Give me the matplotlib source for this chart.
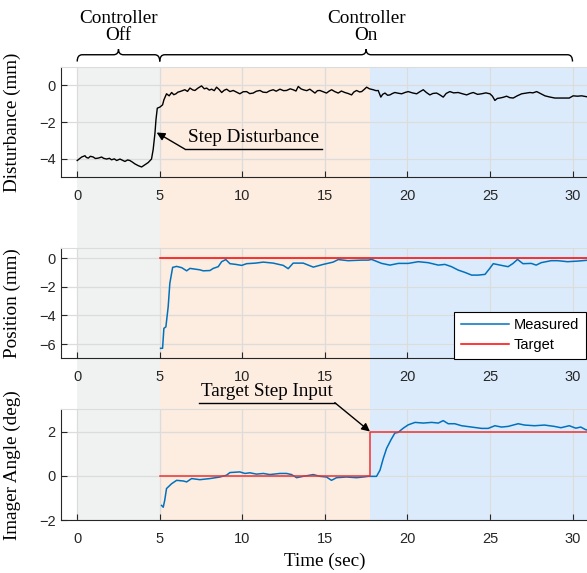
import numpy as np
import matplotlib
matplotlib.use('Agg')
import matplotlib.pyplot as plt
from matplotlib.path import Path
from matplotlib.patches import PathPatch

plt.rcParams['font.family'] = ['Liberation Sans', 'DejaVu Sans']
SERIF = ['Liberation Serif', 'DejaVu Serif']

# Data
dist_t = [0.0, 0.13, 0.27, 0.47, 0.55, 0.67, 0.8, 0.97, 1.1, 1.27, 1.48, 1.6, 1.78, 1.95,
          2.08, 2.25, 2.39, 2.59, 2.75, 2.89, 3.05, 3.19, 3.35, 3.49, 3.7, 3.9, 4.1, 4.3,
          4.5, 4.6, 4.71, 4.77, 4.85, 5.01, 5.17, 5.25, 5.41, 5.57, 5.72, 5.85, 5.98, 6.1,
          6.22, 6.38, 6.52, 6.68, 6.83, 7.0, 7.13, 7.3, 7.53, 7.7, 7.84, 8.0, 8.14, 8.3,
          8.44, 8.6, 8.75, 8.9, 9.05, 9.25, 9.45, 9.65, 9.85, 10.05, 10.26, 10.45, 10.66,
          10.85, 11.07, 11.25, 11.47, 11.65, 11.87, 12.05, 12.28, 12.5, 12.68, 12.9, 13.08,
          13.25, 13.39, 13.55, 13.69, 13.9, 14.09, 14.25, 14.4, 14.55, 14.7, 14.9, 15.1,
          15.25, 15.41, 15.6, 15.81, 16.0, 16.21, 16.4, 16.62, 16.75, 16.92, 17.1, 17.23,
          17.4, 17.53, 17.7, 17.93, 18.1, 18.23, 18.39, 18.5, 18.64, 18.8, 18.94, 19.1,
          19.24, 19.45, 19.65, 19.85, 20.05, 20.3, 20.56, 20.75, 20.96, 21.15, 21.36, 21.55,
          21.77, 21.95, 22.17, 22.35, 22.57, 22.8, 23.08, 23.3, 23.59, 23.8, 23.99, 24.25,
          24.49, 24.75, 25.0, 25.15, 25.3, 25.45, 25.6, 25.8, 26.01, 26.2, 26.41, 26.65,
          26.92, 27.15, 27.42, 27.6, 27.83, 28.05, 28.33, 28.6, 28.93, 29.2, 29.54, 29.8,
          30.04, 30.3, 30.55, 30.8, 31.0]
dist_y = [-4.09, -4.0, -3.9, -3.83, -3.92, -3.96, -3.86, -3.9, -3.98, -3.96, -3.9, -3.97,
          -4.01, -3.97, -4.05, -4.0, -4.09, -4.01, -4.08, -4.14, -4.06, -4.09, -4.18, -4.27,
          -4.37, -4.44, -4.32, -4.2, -4.01, -3.5, -2.6, -1.88, -1.25, -1.19, -1.07, -0.8,
          -0.47, -0.58, -0.4, -0.52, -0.47, -0.38, -0.35, -0.3, -0.25, -0.34, -0.16, -0.26,
          -0.29, -0.17, -0.04, -0.2, -0.16, -0.27, -0.22, -0.3, -0.11, -0.24, -0.4, -0.28,
          -0.22, -0.35, -0.29, -0.38, -0.47, -0.36, -0.35, -0.46, -0.43, -0.33, -0.29, -0.38,
          -0.4, -0.31, -0.25, -0.33, -0.22, -0.3, -0.29, -0.2, -0.25, -0.32, -0.07, -0.2,
          -0.25, -0.3, -0.22, -0.33, -0.43, -0.3, -0.29, -0.36, -0.43, -0.33, -0.25, -0.35,
          -0.43, -0.32, -0.4, -0.45, -0.53, -0.38, -0.29, -0.37, -0.35, -0.22, -0.11, -0.2,
          -0.25, -0.3, -0.29, -0.65, -0.5, -0.43, -0.55, -0.53, -0.45, -0.4, -0.44, -0.47,
          -0.4, -0.35, -0.42, -0.47, -0.36, -0.25, -0.4, -0.53, -0.45, -0.43, -0.52, -0.65,
          -0.45, -0.35, -0.42, -0.4, -0.46, -0.53, -0.45, -0.4, -0.5, -0.47, -0.42, -0.47,
          -0.6, -0.83, -0.72, -0.7, -0.66, -0.6, -0.68, -0.7, -0.58, -0.47, -0.44, -0.4,
          -0.42, -0.35, -0.45, -0.58, -0.64, -0.7, -0.7, -0.7, -0.7, -0.58, -0.6, -0.58,
          -0.62, -0.65]

pos_t = [5.05, 5.17, 5.25, 5.37, 5.51, 5.61, 5.78, 6.02, 6.33, 6.63, 6.83, 7.13, 7.43, 7.63,
         8.04, 8.24, 8.54, 8.75, 9.0, 9.25, 9.6, 9.96, 10.26, 10.8, 11.27, 11.87, 12.48,
         12.78, 13.08, 13.69, 14.3, 14.9, 15.5, 15.81, 16.41, 17.22, 17.63, 17.83, 18.44,
         18.94, 19.45, 20.05, 20.66, 21.26, 21.87, 22.27, 22.67, 23.08, 23.48, 23.89, 24.29,
         24.7, 25.0, 25.2, 25.7, 26.1, 26.4, 26.67, 27.0, 27.5, 27.8, 28.1, 28.7, 29.1,
         29.7, 30.3, 31.0]
pos_y = [-6.3, -6.3, -4.9, -4.8, -3.39, -1.75, -0.63, -0.56, -0.65, -0.87, -0.7, -0.75,
         -0.8, -0.87, -0.85, -0.7, -0.58, -0.23, -0.08, -0.37, -0.42, -0.49, -0.37, -0.33,
         -0.26, -0.33, -0.49, -0.72, -0.33, -0.33, -0.61, -0.42, -0.26, -0.08, -0.16, -0.12,
         -0.12, -0.07, -0.35, -0.47, -0.35, -0.35, -0.23, -0.3, -0.47, -0.42, -0.58, -0.82,
         -0.98, -1.17, -1.17, -1.12, -0.68, -0.37, -0.49, -0.58, -0.35, -0.07, -0.37, -0.35,
         -0.47, -0.3, -0.16, -0.16, -0.23, -0.19, -0.12]
pos_target_t = [5.0, 31.0]
pos_target_y = [0.0, 0.0]

ang_t = [5.11, 5.21, 5.3, 5.41, 5.72, 6.02, 6.43, 6.63, 6.93, 7.43, 8.04, 8.64, 9.04, 9.25,
         9.85, 10.16, 10.46, 10.86, 11.27, 11.67, 12.28, 12.68, 12.98, 13.29, 13.69, 14.3,
         14.7, 15.1, 15.4, 15.71, 16.31, 16.92, 17.32, 17.63, 18.13, 18.34, 18.54, 18.74,
         19.0, 19.24, 19.44, 19.75, 20.05, 20.46, 20.96, 21.47, 21.87, 22.17, 22.47, 22.87,
         23.28, 23.89, 24.49, 24.89, 25.3, 25.7, 26.1, 26.71, 27.1, 27.7, 28.3, 28.9, 29.3,
         29.8, 30.2, 30.5, 30.8, 31.0]
ang_y = [-1.33, -1.41, -1.1, -0.57, -0.35, -0.2, -0.23, -0.27, -0.12, -0.17, -0.12, -0.05,
         0.03, 0.15, 0.18, 0.11, 0.14, 0.08, 0.11, 0.06, 0.11, 0.11, 0.06, -0.08, -0.02, 0.06,
         -0.02, -0.05, -0.2, -0.08, -0.05, -0.08, -0.05, -0.02, -0.02, 0.26, 0.79, 1.24, 1.62,
         1.93, 1.96, 2.15, 2.3, 2.41, 2.38, 2.41, 2.38, 2.49, 2.35, 2.35, 2.26, 2.2, 2.14,
         2.14, 2.26, 2.2, 2.23, 2.35, 2.29, 2.26, 2.29, 2.23, 2.17, 2.26, 2.15, 2.2, 2.08, 2.05]
ang_target_t = [5.0, 17.73, 17.73, 31.0]
ang_target_y = [0.0, 0.0, 2.0, 2.0]

phase_edges = [0.0, 5.0, 17.73, 31.0]
phase_colors = ['#f0f1f1', '#fdece0', '#dcebfb']
xticks = [0, 5, 10, 15, 20, 25, 30]

W, H = 587, 573
fig = plt.figure(figsize=(W / 100, H / 100), dpi=100)
fig.patch.set_facecolor('white')

left = 60.7 / W
width = 32 * 16.51 / W


def frac(top_px, bot_px):
    return [left, 1 - bot_px / H, width, (bot_px - top_px) / H]


# shaded phases running through all panels
bg = fig.add_axes(frac(66.7, 520.3))
bg.set_xlim(-1, 31)
bg.set_ylim(0, 1)
for i in range(3):
    bg.axvspan(phase_edges[i], phase_edges[i + 1], color=phase_colors[i], lw=0)
bg.axis('off')

ax1 = fig.add_axes(frac(66.7, 177.3))
ax2 = fig.add_axes(frac(247.7, 358.3))
ax3 = fig.add_axes(frac(409.3, 520.3))

for ax in [ax1, ax2, ax3]:
    ax.set_facecolor('none')
    ax.set_xlim(-1, 31)
    ax.set_xticks(xticks)
    ax.grid(True, color='#dcdcdc', lw=0.9)
    ax.set_axisbelow(True)
    ax.tick_params(direction='in', length=4, width=0.8, colors='#262626', labelsize=10.5)
    ax.tick_params(axis='x', pad=8.5)
    ax.spines['right'].set_visible(False)
    ax.spines['top'].set_color('#dcdcdc')
    ax.spines['left'].set_color('#262626')
    ax.spines['bottom'].set_color('#262626')

# top: disturbance
ax1.plot(dist_t, dist_y, color='black', lw=1.0)
ax1.set_ylim(-5, 1)
ax1.set_yticks([-4, -2, 0])
ax1.set_ylabel('Disturbance (mm)', family=SERIF, fontsize=13.8)

# middle: position
ax2.plot(pos_t, pos_y, color='#0072BD', lw=1.1, label='Measured')
ax2.plot(pos_target_t, pos_target_y, color='#ff0000', lw=1.1, label='Target')
ax2.set_ylim(-7, 0.75)
ax2.set_yticks([-6, -4, -2, 0])
ax2.set_ylabel('Position (mm)', family=SERIF, fontsize=13.8)
leg = ax2.legend(loc='upper left', bbox_to_anchor=(454 / W, 1 - 311.7 / H),
                 bbox_transform=fig.transFigure, borderaxespad=0, fancybox=False,
                 framealpha=1, edgecolor='black', fontsize=10.5, handlelength=3.3,
                 handletextpad=0.35, labelspacing=0.4, borderpad=0.45)
leg.get_frame().set_linewidth(0.8)

# bottom: imager angle
ax3.plot(ang_t, ang_y, color='#0072BD', lw=1.1)
ax3.plot(ang_target_t, ang_target_y, color='#f03030', lw=1.1)
ax3.set_ylim(-2, 3)
ax3.set_yticks([-2, 0, 2])
ax3.set_ylabel('Imager Angle (deg)', family=SERIF, fontsize=13.8)
ax3.set_xlabel('Time (sec)', family=SERIF, fontsize=13.8, labelpad=5)

for ax in [ax1, ax2, ax3]:
    ax.yaxis.set_label_coords(-0.076, 0.5)


# curly braces above the top panel
def brace(ax, x0, x1, y0, h, r):
    xm = (x0 + x1) / 2
    ym = y0 + h * 0.55
    verts = [(x0, y0), (x0, ym), (x0 + r, ym),
             (xm - r, ym), (xm, ym), (xm, y0 + h),
             (xm, ym), (xm + r, ym),
             (x1 - r, ym), (x1, ym), (x1, y0)]
    codes = [Path.MOVETO, Path.CURVE3, Path.CURVE3,
             Path.LINETO, Path.CURVE3, Path.CURVE3,
             Path.CURVE3, Path.CURVE3,
             Path.LINETO, Path.CURVE3, Path.CURVE3]
    patch = PathPatch(Path(verts, codes), fill=False, lw=1.0, color='black', clip_on=False)
    ax.add_patch(patch)


brace(ax1, 0, 5, 1.28, 0.67, 0.3)
brace(ax1, 5, 30, 1.28, 0.67, 0.3)
ax1.text(2.5, 3.15, 'Controller\nOff', ha='center', va='center', family=SERIF,
         fontsize=13.8, linespacing=0.95, clip_on=False)
ax1.text(17.5, 3.15, 'Controller\nOn', ha='center', va='center', family=SERIF,
         fontsize=13.8, linespacing=0.95, clip_on=False)

# annotation: step disturbance
ax1.annotate('', xy=(4.81, -2.57), xytext=(6.52, -3.47),
             arrowprops=dict(arrowstyle='-|>', color='black', lw=1.0, mutation_scale=12,
                             shrinkA=0, shrinkB=0))
ax1.plot([6.52, 14.82], [-3.47, -3.47], color='black', lw=1.0)
ax1.text(10.67, -2.85, 'Step Disturbance', ha='center', va='center', family=SERIF,
         fontsize=13.8)

# annotation: target step input
ax3.annotate('', xy=(17.73, 2.0), xytext=(15.6, 3.3),
             arrowprops=dict(arrowstyle='-|>', color='black', lw=1.0, mutation_scale=12,
                             shrinkA=0, shrinkB=0), annotation_clip=False)
ax3.plot([7.37, 15.6], [3.3, 3.3], color='black', lw=1.0, clip_on=False)
ax3.text(11.49, 3.78, 'Target Step Input', ha='center', va='center', family=SERIF,
         fontsize=13.8, clip_on=False)

fig.savefig('out.png', dpi=100, facecolor='white')
